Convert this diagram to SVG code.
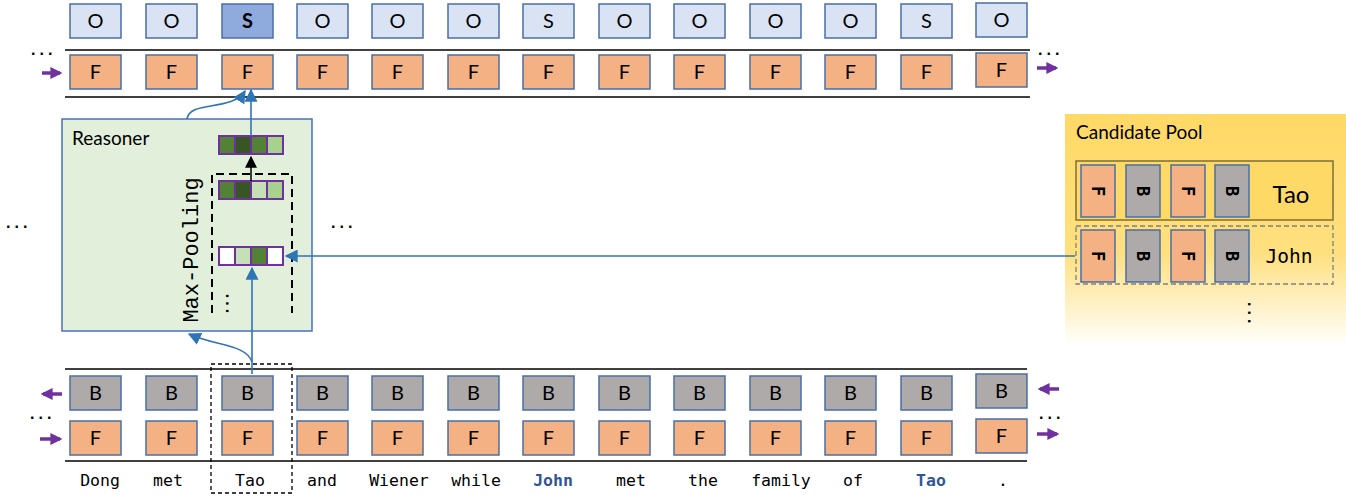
<svg xmlns="http://www.w3.org/2000/svg" width="1346" height="497" viewBox="0 0 1346 497">
<style>
.cell{stroke:#4a6fa5;stroke-width:1.5}
.o{fill:#dae3f3}
.s{fill:#8faadc}
.f{fill:#f4b183}
.b{fill:#aeaaaa}
.lt{font-family:Lato,"Open Sans",sans-serif;font-size:20px;fill:#000;text-anchor:middle}
.mono{font-family:"DejaVu Sans Mono","Liberation Mono",monospace;fill:#000}
.word{font-size:16.5px;text-anchor:middle}
.blue{fill:#2f5597;font-weight:bold}
.rule{stroke:#404040;stroke-width:2}
.dots{font-family:"Liberation Sans",sans-serif;font-weight:bold;font-size:16px;letter-spacing:4px;fill:#000}
.conn{stroke:#2e75b6;stroke-width:1.6;fill:none}
.parrow{stroke:#7030a0;stroke-width:3.5;fill:none}
.vec{stroke:#7030a0;stroke-width:2}
</style>
<defs>
<marker id="abb" viewBox="0 0 10 10" refX="9" refY="5" markerWidth="13" markerHeight="13" orient="auto" markerUnits="userSpaceOnUse">
<path d="M0,0 L10,5 L0,10 Z" fill="#2e75b6"/>
</marker>
<marker id="ak" viewBox="0 0 10 10" refX="9" refY="5" markerWidth="12" markerHeight="12" orient="auto" markerUnits="userSpaceOnUse">
<path d="M0,0 L10,5 L0,10 Z" fill="#000"/>
</marker>
<marker id="ap" viewBox="0 0 10 10" refX="8" refY="5" markerWidth="12" markerHeight="12" orient="auto" markerUnits="userSpaceOnUse">
<path d="M0,0 L10,5 L0,10 Z" fill="#7030a0"/>
</marker>
<linearGradient id="pool" x1="0" y1="0" x2="0" y2="1">
<stop offset="0" stop-color="#ffd966"/>
<stop offset="0.6" stop-color="#ffe07f"/>
<stop offset="1" stop-color="#ffffff"/>
</linearGradient>
</defs>
<rect width="1346" height="497" fill="#fff"/>

<!-- rules -->
<line class="rule" x1="65" y1="50" x2="1030" y2="50"/>
<line class="rule" x1="65" y1="97" x2="1030" y2="97"/>
<line class="rule" x1="65" y1="369" x2="1027" y2="369"/>
<line class="rule" x1="65" y1="461" x2="1027" y2="461"/>

<!-- top output row -->
<g id="out-row">
<rect class="cell o" x="70" y="4" width="51" height="34"/><text class="lt" x="95.5" y="28">O</text>
<rect class="cell o" x="146" y="4" width="51" height="34"/><text class="lt" x="171.5" y="28">O</text>
<rect class="cell s" x="222" y="4" width="51" height="34"/><text class="lt" x="247.5" y="28" font-weight="bold">S</text>
<rect class="cell o" x="297" y="4" width="51" height="34"/><text class="lt" x="322.5" y="28">O</text>
<rect class="cell o" x="372" y="4" width="51" height="34"/><text class="lt" x="397.5" y="28">O</text>
<rect class="cell o" x="448" y="4" width="51" height="34"/><text class="lt" x="473.5" y="28">O</text>
<rect class="cell o" x="523" y="4" width="51" height="34"/><text class="lt" x="548.5" y="28">S</text>
<rect class="cell o" x="599" y="4" width="51" height="34"/><text class="lt" x="624.5" y="28">O</text>
<rect class="cell o" x="674" y="4" width="51" height="34"/><text class="lt" x="699.5" y="28">O</text>
<rect class="cell o" x="750" y="4" width="51" height="34"/><text class="lt" x="775.5" y="28">O</text>
<rect class="cell o" x="825" y="4" width="51" height="34"/><text class="lt" x="850.5" y="28">O</text>
<rect class="cell o" x="901" y="4" width="51" height="34"/><text class="lt" x="926.5" y="28">S</text>
<rect class="cell o" x="976" y="3" width="51" height="34"/><text class="lt" x="1001.5" y="27">O</text>
</g>

<!-- top forward row -->
<g id="top-f-row">
<rect class="cell f" x="70" y="55" width="51" height="34"/><text class="lt" x="95.5" y="79">F</text>
<rect class="cell f" x="146" y="55" width="51" height="34"/><text class="lt" x="171.5" y="79">F</text>
<rect class="cell f" x="222" y="55" width="51" height="34"/><text class="lt" x="247.5" y="79">F</text>
<rect class="cell f" x="297" y="55" width="51" height="34"/><text class="lt" x="322.5" y="79">F</text>
<rect class="cell f" x="372" y="55" width="51" height="34"/><text class="lt" x="397.5" y="79">F</text>
<rect class="cell f" x="448" y="55" width="51" height="34"/><text class="lt" x="473.5" y="79">F</text>
<rect class="cell f" x="523" y="55" width="51" height="34"/><text class="lt" x="548.5" y="79">F</text>
<rect class="cell f" x="599" y="55" width="51" height="34"/><text class="lt" x="624.5" y="79">F</text>
<rect class="cell f" x="674" y="55" width="51" height="34"/><text class="lt" x="699.5" y="79">F</text>
<rect class="cell f" x="750" y="55" width="51" height="34"/><text class="lt" x="775.5" y="79">F</text>
<rect class="cell f" x="825" y="55" width="51" height="34"/><text class="lt" x="850.5" y="79">F</text>
<rect class="cell f" x="901" y="55" width="51" height="34"/><text class="lt" x="926.5" y="79">F</text>
<rect class="cell f" x="976" y="53" width="51" height="34"/><text class="lt" x="1001.5" y="77">F</text>
</g>

<!-- bottom backward row -->
<g id="bot-b-row">
<rect class="cell b" x="70" y="376" width="51" height="34"/><text class="lt" x="95.5" y="400">B</text>
<rect class="cell b" x="146" y="376" width="51" height="34"/><text class="lt" x="171.5" y="400">B</text>
<rect class="cell b" x="222" y="376" width="51" height="34"/><text class="lt" x="247.5" y="400">B</text>
<rect class="cell b" x="297" y="376" width="51" height="34"/><text class="lt" x="322.5" y="400">B</text>
<rect class="cell b" x="372" y="376" width="51" height="34"/><text class="lt" x="397.5" y="400">B</text>
<rect class="cell b" x="448" y="376" width="51" height="34"/><text class="lt" x="473.5" y="400">B</text>
<rect class="cell b" x="523" y="376" width="51" height="34"/><text class="lt" x="548.5" y="400">B</text>
<rect class="cell b" x="599" y="376" width="51" height="34"/><text class="lt" x="624.5" y="400">B</text>
<rect class="cell b" x="674" y="376" width="51" height="34"/><text class="lt" x="699.5" y="400">B</text>
<rect class="cell b" x="750" y="376" width="51" height="34"/><text class="lt" x="775.5" y="400">B</text>
<rect class="cell b" x="825" y="376" width="51" height="34"/><text class="lt" x="850.5" y="400">B</text>
<rect class="cell b" x="901" y="376" width="51" height="34"/><text class="lt" x="926.5" y="400">B</text>
<rect class="cell b" x="976" y="374" width="51" height="34"/><text class="lt" x="1001.5" y="398">B</text>
</g>

<!-- bottom forward row -->
<g id="bot-f-row">
<rect class="cell f" x="70" y="421" width="51" height="34"/><text class="lt" x="95.5" y="445">F</text>
<rect class="cell f" x="146" y="421" width="51" height="34"/><text class="lt" x="171.5" y="445">F</text>
<rect class="cell f" x="222" y="421" width="51" height="34"/><text class="lt" x="247.5" y="445">F</text>
<rect class="cell f" x="297" y="421" width="51" height="34"/><text class="lt" x="322.5" y="445">F</text>
<rect class="cell f" x="372" y="421" width="51" height="34"/><text class="lt" x="397.5" y="445">F</text>
<rect class="cell f" x="448" y="421" width="51" height="34"/><text class="lt" x="473.5" y="445">F</text>
<rect class="cell f" x="523" y="421" width="51" height="34"/><text class="lt" x="548.5" y="445">F</text>
<rect class="cell f" x="599" y="421" width="51" height="34"/><text class="lt" x="624.5" y="445">F</text>
<rect class="cell f" x="674" y="421" width="51" height="34"/><text class="lt" x="699.5" y="445">F</text>
<rect class="cell f" x="750" y="421" width="51" height="34"/><text class="lt" x="775.5" y="445">F</text>
<rect class="cell f" x="825" y="421" width="51" height="34"/><text class="lt" x="850.5" y="445">F</text>
<rect class="cell f" x="901" y="421" width="51" height="34"/><text class="lt" x="926.5" y="445">F</text>
<rect class="cell f" x="976" y="419" width="51" height="34"/><text class="lt" x="1001.5" y="443">F</text>
</g>

<!-- words -->
<g id="words">
<text x="100" y="486" class="mono word">Dong</text>
<text x="168" y="486" class="mono word">met</text>
<text x="250" y="486" class="mono word">Tao</text>
<text x="322" y="486" class="mono word">and</text>
<text x="399" y="486" class="mono word">Wiener</text>
<text x="476" y="486" class="mono word">while</text>
<text x="553" y="486" class="mono word blue">John</text>
<text x="631" y="486" class="mono word">met</text>
<text x="703" y="486" class="mono word">the</text>
<text x="781" y="486" class="mono word">family</text>
<text x="853" y="486" class="mono word">of</text>
<text x="931" y="486" class="mono word blue">Tao</text>
<text x="1003" y="486" class="mono word">.</text>
</g>

<!-- highlight of Tao column -->
<g id="tao-column">
<rect x="211" y="364" width="81" height="129" fill="none" stroke="#000" stroke-width="1.3" stroke-dasharray="4 3"/>
</g>

<!-- reasoner -->
<g id="reasoner">
<rect x="62" y="119" width="250" height="212" fill="#e2efda" stroke="#4472c4" stroke-width="1.5"/>
<text x="72" y="145" font-family="Lato,'Open Sans',sans-serif" font-size="19" fill="#000">Reasoner</text>
<path d="M212,313 V174 H292 V313" fill="none" stroke="#000" stroke-width="2" stroke-dasharray="8 5"/>
<text transform="translate(198,250) rotate(-90)" text-anchor="middle" font-family="'Liberation Mono','DejaVu Sans Mono',monospace" font-size="22" fill="#000">Max-Pooling</text>
<text transform="translate(226,305) rotate(90)" text-anchor="middle" class="dots" style="letter-spacing:3px">...</text>
</g>

<g id="vec-out">
<rect class="vec" x="219" y="136" width="16" height="18" fill="#548235"/>
<rect class="vec" x="235" y="136" width="16" height="18" fill="#375623"/>
<rect class="vec" x="251" y="136" width="16" height="18" fill="#548235"/>
<rect class="vec" x="267" y="136" width="16" height="18" fill="#a9d18e"/>
</g>
<g id="vec-1">
<rect class="vec" x="219" y="181" width="16" height="18" fill="#548235"/>
<rect class="vec" x="235" y="181" width="16" height="18" fill="#375623"/>
<rect class="vec" x="251" y="181" width="16" height="18" fill="#c5e0b4"/>
<rect class="vec" x="267" y="181" width="16" height="18" fill="#a9d18e"/>
</g>
<g id="vec-2">
<rect class="vec" x="219" y="247" width="16" height="18" fill="#ffffff"/>
<rect class="vec" x="235" y="247" width="16" height="18" fill="#c5e0b4"/>
<rect class="vec" x="251" y="247" width="16" height="18" fill="#548235"/>
<rect class="vec" x="267" y="247" width="16" height="18" fill="#ffffff"/>
</g>

<!-- candidate pool -->
<g id="candidate-pool">
<rect x="1065" y="114" width="281" height="232" fill="url(#pool)"/>
<text x="1076" y="139" font-family="Lato,'Open Sans',sans-serif" font-size="19" fill="#000">Candidate Pool</text>
<text class="dots" transform="translate(1248,302) rotate(90)" style="letter-spacing:4px">...</text>
</g>
<g id="cand-tao">
<rect x="1076" y="161" width="257" height="59" fill="#ffd966" stroke="#7f6f3a" stroke-width="1.5"/>
<rect class="cell f" x="1081" y="165" width="34" height="52"/>
<rect class="cell b" x="1126" y="165" width="34" height="52"/>
<rect class="cell f" x="1171" y="165" width="34" height="52"/>
<rect class="cell b" x="1215" y="165" width="34" height="52"/>
<text class="mono" font-size="17" font-weight="bold" text-anchor="middle" transform="translate(1092,191) rotate(90)">F</text>
<text class="mono" font-size="17" font-weight="bold" text-anchor="middle" transform="translate(1137,191) rotate(90)">B</text>
<text class="mono" font-size="17" font-weight="bold" text-anchor="middle" transform="translate(1182,191) rotate(90)">F</text>
<text class="mono" font-size="17" font-weight="bold" text-anchor="middle" transform="translate(1226,191) rotate(90)">B</text>
<text x="1291" y="203" font-family="Lato,'Open Sans',sans-serif" font-size="24" text-anchor="middle" fill="#000">Tao</text>
</g>
<g id="cand-john">
<rect x="1076" y="226" width="257" height="58" fill="none" stroke="#7f7f7f" stroke-width="1.3" stroke-dasharray="5 3"/>
<rect class="cell f" x="1081" y="230" width="34" height="52"/>
<rect class="cell b" x="1126" y="230" width="34" height="52"/>
<rect class="cell f" x="1171" y="230" width="34" height="52"/>
<rect class="cell b" x="1215" y="230" width="34" height="52"/>
<text class="mono" font-size="17" font-weight="bold" text-anchor="middle" transform="translate(1092,256) rotate(90)">F</text>
<text class="mono" font-size="17" font-weight="bold" text-anchor="middle" transform="translate(1137,256) rotate(90)">B</text>
<text class="mono" font-size="17" font-weight="bold" text-anchor="middle" transform="translate(1182,256) rotate(90)">F</text>
<text class="mono" font-size="17" font-weight="bold" text-anchor="middle" transform="translate(1226,256) rotate(90)">B</text>
<text x="1289" y="263" class="mono" font-size="19.5" text-anchor="middle">John</text>
</g>

<!-- ellipses -->
<g id="ellipses">
<text class="dots" x="31" y="55">...</text>
<text class="dots" x="1038" y="55">...</text>
<text class="dots" x="30" y="419">...</text>
<text class="dots" x="1039" y="419">...</text>
<text class="dots" x="6" y="228">...</text>
<text class="dots" x="331" y="228">...</text>
</g>

<!-- connectors -->
<g id="connectors">
<path class="conn" d="M252,374 V268" marker-end="url(#abb)"/>
<path class="conn" d="M1075,256 H286" marker-end="url(#abb)"/>
<path class="conn" d="M252,362 C246,344 215,346 189,334" marker-end="url(#abb)"/>
<path class="conn" d="M251,136 V90" marker-end="url(#abb)"/>
<path class="conn" d="M187,119 C190,100 232,112 245,91" marker-end="url(#abb)"/>
<path d="M251,181 V157" stroke="#000" stroke-width="1.5" fill="none" marker-end="url(#ak)"/>
<path class="parrow" d="M42,73 H60" marker-end="url(#ap)"/>
<path class="parrow" d="M1037,68 H1056" marker-end="url(#ap)"/>
<path class="parrow" d="M62,394 H43" marker-end="url(#ap)"/>
<path class="parrow" d="M40,439 H60" marker-end="url(#ap)"/>
<path class="parrow" d="M1059,389 H1040" marker-end="url(#ap)"/>
<path class="parrow" d="M1037,434 H1057" marker-end="url(#ap)"/>
</g>
</svg>
